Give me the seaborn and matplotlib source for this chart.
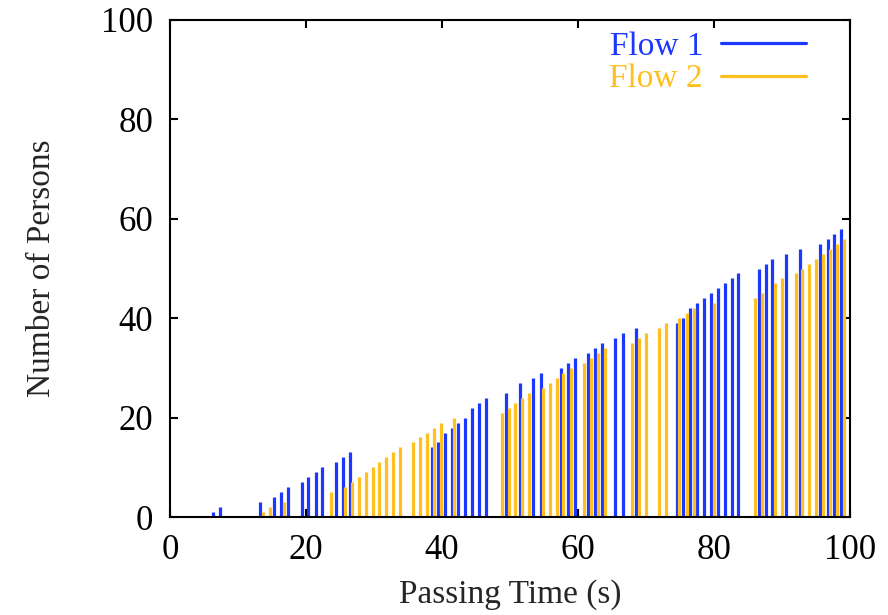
import matplotlib
matplotlib.use("Agg")
import matplotlib.pyplot as plt
from matplotlib.lines import Line2D
import pandas as pd
import seaborn as sns

# passing times (s) and cumulative number of persons
flow1_time = [6.3, 7.3, 13.3, 15.3, 16.3, 17.4, 19.4, 20.3, 21.4, 22.4, 24.4, 25.4, 26.4,
              38.5, 39.4, 40.4, 41.4, 42.4, 43.4, 44.4, 45.4, 46.5, 49.4, 51.4, 53.4, 54.5,
              57.5, 58.5, 59.5, 61.5, 62.5, 63.5, 65.5, 66.6, 68.6, 74.5, 75.5, 76.5, 77.5,
              78.6, 79.6, 80.6, 81.6, 82.6, 83.6, 86.6, 87.6, 88.6, 90.6, 92.6, 95.6, 96.7,
              97.6, 98.7]
flow1_count = [1, 2, 3, 4, 5, 6, 7, 8, 9, 10, 11, 12, 13,
               14, 15, 17, 18, 19, 20, 22, 23, 24, 25, 27, 28, 29,
               30, 31, 32, 33, 34, 35, 36, 37, 38, 39, 40, 42, 43,
               44, 45, 46, 47, 48, 49, 50, 51, 52, 53, 54, 55, 56,
               57, 58]

flow2_time = [13.7, 14.7, 16.8, 23.7, 25.8, 26.8, 27.8, 28.8, 29.8, 30.8, 31.8, 32.8, 33.8,
              35.8, 36.8, 37.8, 38.8, 39.8, 41.8, 48.8, 49.8, 50.8, 51.8, 52.8, 54.9, 55.9,
              56.9, 57.8, 58.9, 60.9, 61.9, 62.9, 64.0, 67.9, 69.0, 70.0, 71.9, 72.9, 74.9,
              76.0, 77.0, 80.0, 86.0, 87.0, 89.0, 90.0, 92.0, 93.0, 94.0, 95.0, 96.0, 97.1,
              98.1, 99.1]
flow2_count = [1, 2, 3, 5, 6, 7, 8, 9, 10, 11, 12, 13, 14,
               15, 16, 17, 18, 19, 20, 21, 22, 23, 24, 25, 26, 27,
               28, 29, 30, 31, 32, 33, 34, 35, 36, 37, 38, 39, 40,
               41, 42, 43, 44, 45, 47, 48, 49, 50, 51, 52, 53, 54,
               55, 56]

flow_names = ["Flow 1", "Flow 2"]
flow_colors = {"Flow 1": "#1c38ff", "Flow 2": "#ffbf1f"}
axis_ticks = [0, 20, 40, 60, 80, 100]

# each impulse becomes a two-point vertical segment (one unit per passage)
rows = []
for name, times, counts in zip(flow_names, [flow1_time, flow2_time], [flow1_count, flow2_count]):
    for i, (t, n) in enumerate(zip(times, counts)):
        uid = f"{name}-{i}"
        rows.append({"flow": name, "uid": uid, "time": t, "persons": 0})
        rows.append({"flow": name, "uid": uid, "time": t, "persons": n})
df = pd.DataFrame(rows)

sns.set_theme(style="ticks")
plt.rcParams["font.family"] = ["Liberation Serif", "DejaVu Serif"]

fig = plt.figure(figsize=(8.88, 6.15), dpi=100)
ax = fig.add_axes([170 / 888, 98 / 615, 680 / 888, 497 / 615])

sns.lineplot(
    data=df, x="time", y="persons", hue="flow", units="uid",
    estimator=None, sort=False, palette=flow_colors,
    linewidth=2.3, solid_capstyle="butt", legend=False, ax=ax,
)

ax.set_xlim(0, 100)
ax.set_ylim(0, 100)
ax.set_xticks(axis_ticks)
ax.set_yticks(axis_ticks)
ax.tick_params(direction="in", top=True, right=True, length=6, width=1.5,
               labelsize=25, colors="black", pad=12)
ax.tick_params(axis="x", pad=12)
for sp in ax.spines.values():
    sp.set_linewidth(1.5)
    sp.set_color("black")
    sp.set_visible(True)

ax.set_xlabel("Passing Time (s)", fontsize=24, labelpad=9)
ax.set_ylabel("Number of Persons", fontsize=24, labelpad=32)

handles = [Line2D([], [], color=flow_colors[n], linewidth=2.3) for n in flow_names]
ax.legend(handles, flow_names, loc="upper right", bbox_to_anchor=(0.9456, 0.99),
          frameon=False, markerfirst=False, fontsize=24, labelcolor="linecolor",
          handlelength=2.55, handletextpad=0.55, labelspacing=0.05,
          borderpad=0.2, borderaxespad=0)

fig.savefig("out.png", dpi=100)
